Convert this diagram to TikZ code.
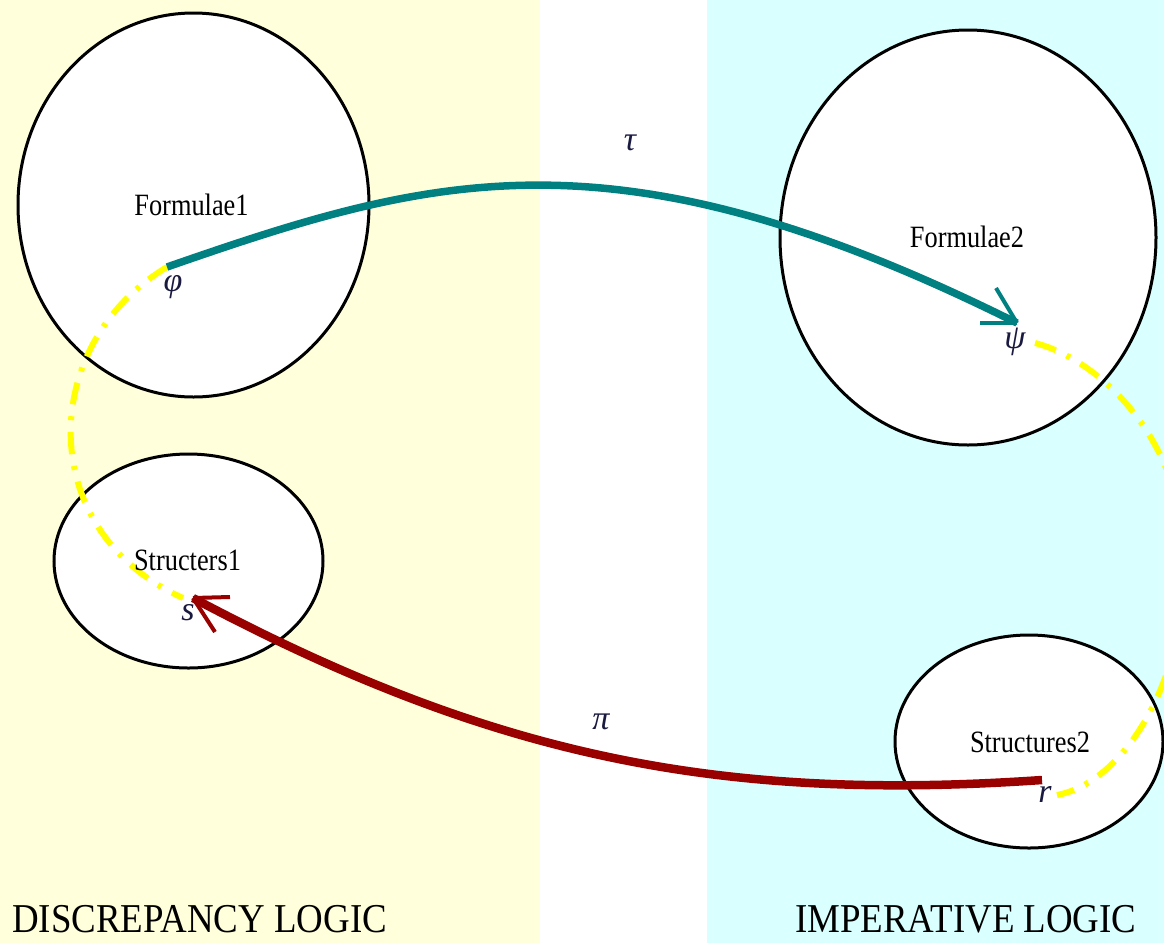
\documentclass[tikz,border=0pt]{standalone}
\usepackage{fontspec}
\setmainfont{Liberation Serif}
\newfontfamily\labfont[FakeStretch=0.85]{Liberation Serif}
\newfontfamily\botfont[FakeStretch=0.9]{Liberation Serif}
\usetikzlibrary{shapes.geometric}
\definecolor{creambg}{HTML}{FFFFDC}
\definecolor{cyanbg}{HTML}{D9FFFF}
\definecolor{tealarrow}{HTML}{008080}
\definecolor{redarrow}{HTML}{990000}
\definecolor{yellowpath}{HTML}{FFFF00}
\definecolor{greekink}{HTML}{1A1A40}
\tikzset{
  blob/.style={ellipse, draw=black, line width=3pt, fill=white, inner sep=0pt, outer sep=0pt},
  setlabel/.style={font=\labfont\fontsize{31}{31}\selectfont, inner sep=0pt, anchor=base},
  greek/.style={font=\itshape\fontsize{34}{34}\selectfont, text=greekink, inner sep=0pt},
  bottomlabel/.style={font=\botfont\fontsize{41}{41}\selectfont, inner sep=0pt, anchor=base west},
  yellowdash/.style={draw=yellowpath, line width=6pt, dash pattern=on 22pt off 12pt on 4pt off 12pt},
  tauline/.style={draw=tealarrow, line width=7.5pt},
  tauhead/.style={draw=tealarrow, line width=4pt},
  piline/.style={draw=redarrow, line width=8.5pt},
  pihead/.style={draw=redarrow, line width=4pt}
}
\begin{document}
\begin{tikzpicture}[x=1pt, y=-1pt]
\useasboundingbox (0,0) rectangle (1164,943);
\clip (0,0) rectangle (1164,943);
% backgrounds
\fill[white] (0,0) rectangle (1164,943);
\fill[creambg] (0,0) rectangle (540,943);
\fill[cyanbg] (707,0) rectangle (1164,943);
% sets
\node[blob, minimum width=351pt, minimum height=384pt] (F1) at (193.5,205) {};
\node[blob, minimum width=376pt, minimum height=415pt] (F2) at (968,237.5) {};
\node[blob, minimum width=269pt, minimum height=214pt] (S1) at (188.5,561) {};
\node[blob, minimum width=268pt, minimum height=213pt] (S2) at (1029,741.5) {};
% anchor points
\coordinate (phi0) at (167,267);
\coordinate (psiT) at (1017,323);
\coordinate (psi0) at (1035,343);
\coordinate (ymid) at (1185,565);
\coordinate (r0) at (1042,780);
\coordinate (rY) at (1057,795);
\coordinate (sT) at (193,598);
\coordinate (sY) at (183,598);
% yellow dash-dot paths
\draw[yellowdash] (phi0) .. controls (37,345) and (35,532) .. (sY);
\draw[yellowdash] (psi0) .. controls (1100,360) and (1185,440) .. (ymid)
                         .. controls (1185,680) and (1125,782) .. (rY);
% tau arrow
\draw[tauline] (phi0) .. controls (432,175) and (614,122) .. (psiT);
\draw[tauhead] (psiT) -- ++(-37,0);
\draw[tauhead] (psiT) -- ++(-21,-35);
% pi arrow
\draw[piline] (r0) .. controls (721,802) and (494,758) .. (sT);
\draw[pihead] (sT) -- ++(37,-1);
\draw[pihead] (sT) -- ++(22,34);
% set labels
\node[setlabel] (lF1) at (191.5,215) {Formulae1};
\node[setlabel] (lF2) at (967,247) {Formulae2};
\node[setlabel] (lS1) at (187.5,570) {Structers1};
\node[setlabel] (lS2) at (1030,752) {Structures2};
% element labels
\node[greek] (gphi) at (173,287) {φ};
\node[greek] (gpsi) at (1015,342) {ψ};
\node[greek] (gs) at (188,613) {s};
\node[greek] (gr) at (1045,794) {r};
\node[greek] (gtau) at (630,143) {τ};
\node[greek] (gpi) at (601,722) {π};
% bottom labels
\node[bottomlabel] (dl) at (12,932) {DISCREPANCY LOGIC};
\node[bottomlabel] (il) at (795,932) {IMPERATIVE LOGIC};
\end{tikzpicture}
\end{document}
